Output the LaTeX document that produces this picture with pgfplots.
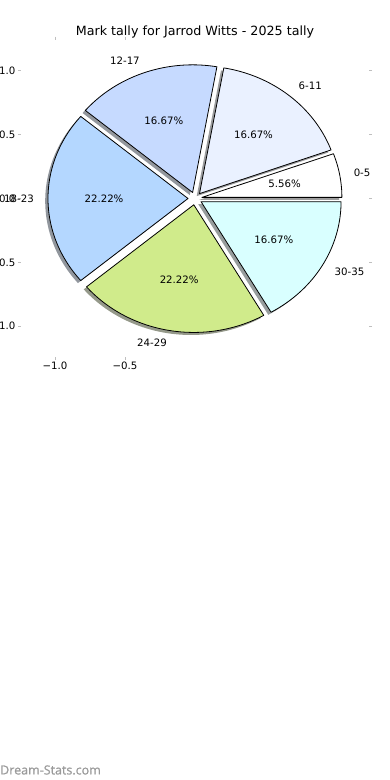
\documentclass[border=0pt]{standalone}
\usepackage{pgfplots}
\pgfplotsset{compat=1.18}
\usepackage{pgfplotstable}
\usepackage{fontspec}
\setmainfont{DejaVu Sans}
\newfontfamily\wmfont{Open Sans}[FakeBold=0.8]
\pgfkeys{/pgf/number format/assume math mode=true}

\definecolor{c0}{HTML}{FFFFFF}
\definecolor{c1}{HTML}{EAF1FF}
\definecolor{c2}{HTML}{C6DAFF}
\definecolor{c3}{HTML}{B4D7FF}
\definecolor{c4}{HTML}{D0EB8B}
\definecolor{c5}{HTML}{D9FFFF}
\definecolor{wmgray}{HTML}{9A9A9A}
\newcommand\lblfont{\fontsize{10.2}{12}\selectfont}

\pgfplotstableread{
label count
0-5 1
6-11 3
12-17 3
18-23 4
24-29 4
30-35 3
}\tally

\begin{document}
\begin{tikzpicture}[x=1pt,y=1pt]
\pgfmathsetmacro\total{0}
\pgfplotsforeachungrouped \i in {0,...,5}{%
  \pgfplotstablegetelem{\i}{count}\of\tally
  \pgfmathsetmacro\total{\total+\pgfplotsretval}%
}
\begin{axis}[
  at={(21.4pt,423.2pt)}, anchor=south west,
  scale only axis, width=347.2pt, height=316.6pt,
  xmin=-1.24, xmax=1.24, ymin=-1.24, ymax=1.24,
  axis line style={draw=none},
  xtick={-1,-0.5}, xticklabels={−1.0,−0.5},
  ytick={-1,-0.5,0,0.5,1}, yticklabels={−1.0,−0.5,0.0,0.5,1.0},
  tick pos=both, tick align=outside,
  xticklabel pos=lower, yticklabel pos=left,
  major tick length=3.5pt,
  tick style={draw=black!25, line width=0.8pt},
  ticklabel style={font=\lblfont, inner sep=0pt},
  yticklabel style={xshift=-2.4pt},
  xticklabel style={yshift=-1pt},
  title={Mark tally for Jarrod Witts - 2025 tally},
  title style={at={(0.5,1)}, anchor=center, yshift=2pt, inner sep=0pt, font=\fontsize{12.7}{15}\selectfont},
  clip=false,
]
% shadows
\pgfmathsetmacro\cum{0}
\pgfplotsforeachungrouped \i in {0,...,5}{%
  \pgfplotstablegetelem{\i}{count}\of\tally
  \let\cnt\pgfplotsretval
  \pgfmathsetmacro\angA{\cum/\total*360}%
  \pgfmathsetmacro\cum{\cum+\cnt}%
  \pgfmathsetmacro\angB{\cum/\total*360}%
  \pgfmathsetmacro\mid{(\angA+\angB)/2}%
  \pgfmathsetmacro\sx{0.05*cos(\mid)-0.02}%
  \pgfmathsetmacro\sy{0.05*sin(\mid)-0.02}%
  \edef\doit{\noexpand\addplot[draw=none, fill=c\i!30!black, fill opacity=0.55, domain=\angA:\angB, samples=60, variable=\noexpand\t] ({\sx+cos(\noexpand\t)},{\sy+sin(\noexpand\t)}) -- (axis cs:\sx,\sy) -- cycle;}%
  \doit
}
% wedges, labels, percentages
\pgfmathsetmacro\cum{0}
\pgfplotsforeachungrouped \i in {0,...,5}{%
  \pgfplotstablegetelem{\i}{count}\of\tally
  \let\cnt\pgfplotsretval
  \pgfplotstablegetelem{\i}{label}\of\tally
  \let\lab\pgfplotsretval
  \pgfmathsetmacro\angA{\cum/\total*360}%
  \pgfmathsetmacro\cum{\cum+\cnt}%
  \pgfmathsetmacro\angB{\cum/\total*360}%
  \pgfmathsetmacro\mid{(\angA+\angB)/2}%
  \pgfmathsetmacro\dx{0.05*cos(\mid)}%
  \pgfmathsetmacro\dy{0.05*sin(\mid)}%
  \pgfmathsetmacro\lx{1.15*cos(\mid)}%
  \pgfmathsetmacro\ly{1.15*sin(\mid)}%
  \pgfmathsetmacro\qx{0.65*cos(\mid)}%
  \pgfmathsetmacro\qy{0.65*sin(\mid)}%
  \pgfmathsetmacro\pct{100*\cnt/\total}%
  \ifdim\lx pt>0pt \def\anc{west}\else\def\anc{east}\fi
  \edef\doit{\noexpand\addplot[draw=black, line width=0.8pt, line join=round, fill=c\i, domain=\angA:\angB, samples=60, variable=\noexpand\t] ({\dx+cos(\noexpand\t)},{\dy+sin(\noexpand\t)}) -- (axis cs:\dx,\dy) -- cycle;
  \noexpand\node[anchor=\anc, inner sep=0pt, font=\noexpand\lblfont] at (axis cs:\lx,\ly) {\lab};
  \noexpand\node[inner sep=0pt, font=\noexpand\lblfont] at (axis cs:\qx,\qy) {\noexpand\pgfmathprintnumber[fixed,fixed zerofill,precision=2]{\pct}\noexpand\%};}%
  \doit
}
\end{axis}
\node[anchor=west, inner sep=0pt, text=wmgray, font=\wmfont\fontsize{12.5}{14}\selectfont] at (0pt,10pt) {Dream-Stats.com};
\pgfresetboundingbox
\useasboundingbox (0pt,0pt) rectangle (390pt,780pt);
\end{tikzpicture}
\end{document}
